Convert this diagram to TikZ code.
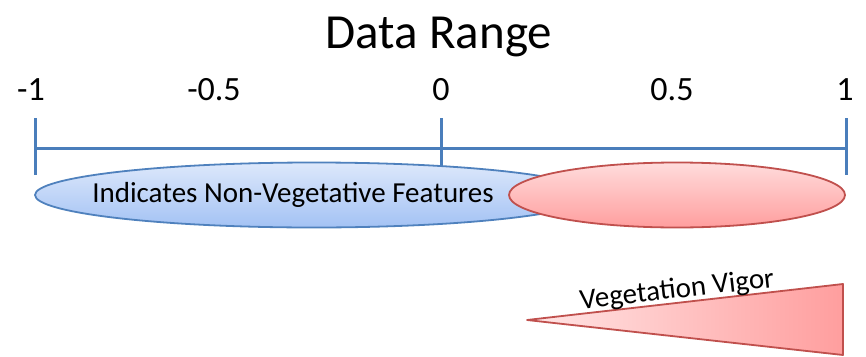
\documentclass[tikz,border=0pt]{standalone}
\usepackage{fontspec}
\setmainfont{Carlito}
\usetikzlibrary{shapes.geometric}
\definecolor{axisblue}{HTML}{4A7EBB}
\definecolor{edgeblue}{HTML}{4F81BD}
\definecolor{edgered}{HTML}{C0504D}
\definecolor{bluetop}{HTML}{DDE8FB}
\definecolor{bluebot}{HTML}{A3C2F4}
\definecolor{redtop}{HTML}{FFDCDC}
\definecolor{redbot}{HTML}{FF9E9E}
\begin{document}
\begin{tikzpicture}[x=1pt, y=-1pt, line join=round,
	ticklabel/.style={anchor=base, font=\fontsize{34}{40}\selectfont},
	bluebubble/.style={ellipse, draw=edgeblue, line width=1.8pt, top color=bluetop, bottom color=bluebot},
	redbubble/.style={ellipse, draw=edgered, line width=1.8pt, top color=redtop, bottom color=redbot}]
	\useasboundingbox (0,0) rectangle (866,356);
	\def\xleft{35}\def\xmid{441}\def\xright{846}
	% title and scale labels
	\node[anchor=base, font=\fontsize{49}{58}\selectfont] (title) at (439,48) {Data Range};
	\node[ticklabel] (lm1) at (31,100) {-1};
	\node[ticklabel] (lm05) at (214,100) {-0.5};
	\node[ticklabel] (l0) at (441,100) {0};
	\node[ticklabel] (l05) at (672,100) {0.5};
	\node[ticklabel] (l1) at (845,100) {1};
	% axis
	\draw[axisblue, line width=3pt] (\xleft,148)--(\xright,148);
	\foreach \t in {\xleft,\xmid,\xright}
		\draw[axisblue, line width=3pt] (\t,118)--(\t,175);
	% ranges
	\node[bluebubble, minimum width=558pt, minimum height=65pt, inner sep=0pt] (nonveg) at (314,195) {};
	\node[anchor=base, font=\fontsize{29}{35}\selectfont] (nonvegtext) at (293,202) {Indicates Non-Vegetative Features};
	\node[redbubble, minimum width=336pt, minimum height=65pt, inner sep=0pt] (veg) at (677,195) {};
	% vigor wedge
	\draw[edgered, line width=1.8pt, left color=redtop!70!white, right color=redbot] (527,320)--(843,284)--(843,355)--cycle;
	\node[anchor=base, rotate=6.5, font=\fontsize{29}{35}\selectfont] (vigor) at (678,298) {Vegetation Vigor};
\end{tikzpicture}
\end{document}
